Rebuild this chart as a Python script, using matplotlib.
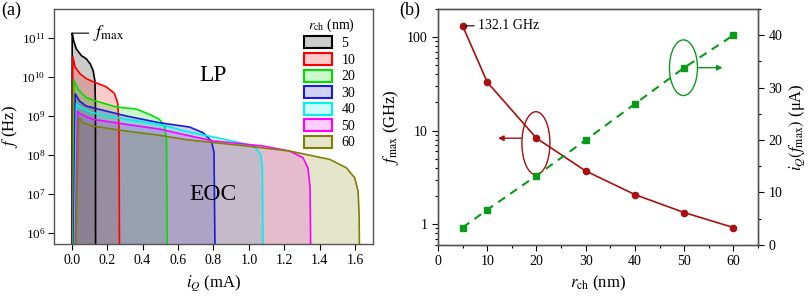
import matplotlib
matplotlib.use('Agg')
import matplotlib.pyplot as plt
from matplotlib.patches import Patch, Ellipse
from matplotlib.ticker import (FixedLocator, NullLocator, LogLocator,
                               MultipleLocator, FuncFormatter, NullFormatter)

plt.rcParams['font.family'] = ['Liberation Serif', 'DejaVu Serif']
plt.rcParams['mathtext.fontset'] = 'stix'
plt.rcParams['font.size'] = 10
plt.rcParams['xtick.direction'] = 'out'
plt.rcParams['ytick.direction'] = 'out'
plt.rcParams['axes.edgecolor'] = '#555555'
plt.rcParams['axes.linewidth'] = 1.0

# (a) f versus i_Q for each channel radius
radii = [5, 10, 20, 30, 40, 50, 60]
colors = ['#000000', '#ff0000', '#00e000', '#1a1ae0', '#00f0f0', '#ff00ff', '#808000']

iq_5 = [0.001, 0.003, 0.011, 0.026, 0.055, 0.083, 0.106, 0.121, 0.131, 0.134, 0.135]
f_5 = [1e5, 1.32e11, 8.5e10, 5.2e10, 3.5e10, 2.9e10, 2.1e10, 1.45e10, 8e9, 2e9, 1e5]

iq_10 = [0.003, 0.0067, 0.019, 0.047, 0.085, 0.119, 0.194, 0.241, 0.26, 0.267, 0.27]
f_10 = [1e5, 3.3e10, 1.8e10, 1.2e10, 8.9e9, 7.6e9, 5.6e9, 3.8e9, 2.1e9, 5e8, 1e5]

iq_20 = [0.006, 0.013, 0.034, 0.081, 0.138, 0.251, 0.364, 0.439, 0.495, 0.524, 0.535, 0.54]
f_20 = [1e5, 8.3e9, 4.9e9, 2.95e9, 2.4e9, 1.7e9, 1.5e9, 1.1e9, 8.2e8, 5.5e8, 2.5e8, 1e5]

iq_30 = [0.01, 0.02, 0.044, 0.081, 0.175, 0.307, 0.495, 0.665, 0.742, 0.788, 0.803, 0.81]
f_30 = [1e5, 3.69e9, 2.4e9, 1.8e9, 1.4e9, 1.0e9, 6.7e8, 5.2e8, 3.7e8, 2.3e8, 1.2e8, 1e5]

iq_40 = [0.013, 0.027, 0.044, 0.119, 0.307, 0.495, 0.65, 0.797, 0.952, 1.027, 1.066, 1.076, 1.08]
f_40 = [1e5, 2.07e9, 1.7e9, 1.2e9, 8.2e8, 6.1e8, 4.0e8, 2.9e8, 2.05e8, 1.7e8, 1.05e8, 5e7, 1e5]

iq_50 = [0.017, 0.033, 0.044, 0.119, 0.307, 0.495, 0.65, 0.797, 1.079, 1.23, 1.305, 1.333, 1.345, 1.35]
f_50 = [1e5, 1.33e9, 1.15e9, 8.2e8, 6.1e8, 4.6e8, 3.2e8, 2.3e8, 1.7e8, 1.26e8, 8.5e7, 4.7e7, 1.5e7, 1e5]

iq_60 = [0.02, 0.04, 0.062, 0.119, 0.307, 0.495, 0.65, 0.985, 1.23, 1.456, 1.55, 1.597, 1.616, 1.622, 1.625]
f_60 = [1e5, 9.2e8, 6.7e8, 5.5e8, 4.1e8, 3.2e8, 2.45e8, 1.7e8, 1.26e8, 7.7e7, 4.7e7, 2.6e7, 1.2e7, 3e6, 1e5]

curves = [(iq_5, f_5), (iq_10, f_10), (iq_20, f_20), (iq_30, f_30),
          (iq_40, f_40), (iq_50, f_50), (iq_60, f_60)]

# (b) f_max and i_Q(f_max) versus r_ch
r_ch = [5, 10, 20, 30, 40, 50, 60]
f_max = [132.1, 33.0, 8.3, 3.7, 2.07, 1.33, 0.92]
iq_fmax = [3.3, 6.7, 13.2, 20.0, 26.9, 33.8, 40.0]

fig = plt.figure(figsize=(8.09, 2.99), dpi=100)

# ---- panel (a)
ax = fig.add_axes([0.0667, 0.184, 0.3943, 0.786])
for (iq, f), c in zip(curves, colors):
    ax.fill_between(iq, f, 1e5, color=c, alpha=0.2, lw=0)
    ax.plot(iq, f, color=c, lw=1.2)

ax.set_yscale('log')
ax.set_xlim(-0.1, 1.7)
ax.set_ylim(10**5.72, 10**11.74)
ax.xaxis.set_major_locator(MultipleLocator(0.2))
ax.xaxis.set_major_formatter(FuncFormatter(lambda v, p: '%.1f' % v))
ax.yaxis.set_major_locator(FixedLocator([1e6, 1e7, 1e8, 1e9, 1e10, 1e11]))
ax.yaxis.set_minor_locator(NullLocator())
ax.tick_params(labelsize=10, length=4, width=0.8)
ax.tick_params(axis='y', pad=2, labelsize=9.5)
ax.set_xlabel('$i_Q$ (mA)', fontsize=12)
ax.set_ylabel('$f$ (Hz)', fontsize=12, labelpad=1)

ax.annotate('$f_{\\rm max}$', xy=(iq_5[1], f_5[1]), xytext=(0.12, f_5[1]),
            fontsize=13, va='center', ha='left',
            arrowprops=dict(arrowstyle='-', color='black', lw=0.8,
                            shrinkA=1, shrinkB=0))
ax.text(0.8, 1.1e10, 'LP', fontsize=17, ha='center', va='center')
ax.text(0.8, 1.0e7, 'EOC', fontsize=17, ha='center', va='center')

handles = [Patch(facecolor=matplotlib.colors.to_rgba(c, 0.2), edgecolor=c, lw=1.5)
           for c in colors]
leg = ax.legend(handles, [str(r) for r in radii], loc='upper right',
                bbox_to_anchor=(0.975, 1.01), frameon=False, fontsize=10,
                title='$r_{\\rm ch}$ (nm)', title_fontsize=10,
                handlelength=2.0, handleheight=0.95, labelspacing=0.2,
                handletextpad=0.7, borderpad=0.2)
leg._legend_box.align = 'right'

# ---- panel (b)
red = '#a80f0f'
green = '#0a9a1a'
ax2 = fig.add_axes([0.5414, 0.181, 0.3956, 0.789])
ax2.plot(r_ch, f_max, '-o', color=red, ms=4.5, lw=1.2)
ax2.set_yscale('log')
ax2.set_xlim(0, 65)
ax2.set_ylim(0.6, 200)
ax2.xaxis.set_major_locator(MultipleLocator(10))
ax2.xaxis.set_minor_locator(MultipleLocator(5))
ax2.yaxis.set_major_locator(FixedLocator([1, 10, 100]))
ax2.yaxis.set_major_formatter(FuncFormatter(lambda v, p: '%g' % v))
ax2.yaxis.set_minor_locator(LogLocator(base=10, subs=range(2, 10)))
ax2.yaxis.set_minor_formatter(NullFormatter())
ax2.tick_params(labelsize=10, length=4, width=0.8)
ax2.tick_params(which='minor', length=2.5, width=0.8)
ax2.set_xlabel('$r_{\\rm ch}$ (nm)', fontsize=12)
ax2.set_ylabel('$f_{\\rm max}$ (GHz)', fontsize=12)

ax2.annotate('132.1 GHz', xy=(r_ch[0], f_max[0]), xytext=(8.2, f_max[0]),
             fontsize=10, va='center', ha='left',
             arrowprops=dict(arrowstyle='-', color='black', lw=0.8,
                             shrinkA=1, shrinkB=2))

ax3 = ax2.twinx()
ax3.plot(r_ch, iq_fmax, '--s', color=green, ms=4, lw=1.5, dashes=(4, 3))
ax3.set_ylim(0, 45)
ax3.yaxis.set_major_locator(MultipleLocator(10))
ax3.yaxis.set_minor_locator(MultipleLocator(5))
ax3.tick_params(labelsize=10, length=4, width=0.8)
ax3.tick_params(which='minor', length=2.5, width=0.8)
ax3.set_ylabel('$i_Q(f_{\\rm max})$ (μA)', fontsize=12)

ax2.add_patch(Ellipse((0.306, 0.431), 0.0875, 0.267, transform=ax2.transAxes,
                      fill=False, edgecolor=red, lw=1.0))
ax2.annotate('', xy=(12.2, 8.3), xytext=(17.0, 8.3),
             arrowprops=dict(arrowstyle='-|>', color=red, lw=1.0,
                             shrinkA=0, shrinkB=0, mutation_scale=8))
ax3.add_patch(Ellipse((0.767, 0.751), 0.0875, 0.236, transform=ax3.transAxes,
                      fill=False, edgecolor=green, lw=1.0))
ax3.annotate('', xy=(57.8, 33.8), xytext=(52.9, 33.8),
             arrowprops=dict(arrowstyle='-|>', color=green, lw=1.0,
                             shrinkA=0, shrinkB=0, mutation_scale=8))

fig.text(0.002, 0.995, '(a)', fontsize=13, va='top', ha='left')
fig.text(0.494, 0.995, '(b)', fontsize=13, va='top', ha='left')

fig.savefig('out.png', dpi=100)
